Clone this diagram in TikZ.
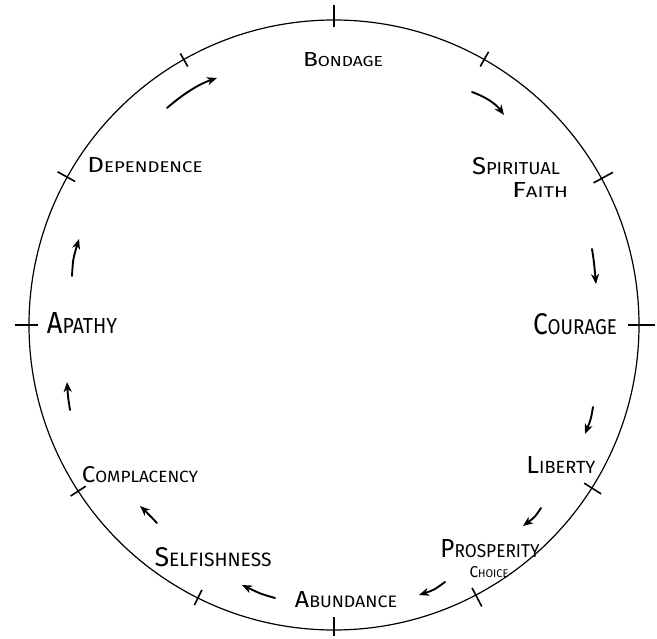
\documentclass[tikz,border=0pt]{standalone}
\usepackage{graphicx}
\usepackage{fontspec}
\setmainfont{Fira Sans}
\usetikzlibrary{arrows.meta,calc}
\newcommand\hwcap[2]{{\fontsize{14}{14}\selectfont #1}{\fontsize{10}{10}\selectfont #2}}
\newcommand\fitlbl[4]{\resizebox{#1pt}{#2pt}{\hwcap{#3}{#4}}}
\tikzset{
  ring/.style={line width=1.2pt},
  tickmark/.style={line width=1.6pt},
  flow/.style={line width=1.9pt,line cap=round,-{Stealth[length=10pt,width=8pt,inset=3pt]}},
  lbl/.style={inner sep=0pt,anchor=center}
}
\begin{document}
\begin{tikzpicture}[x=1pt,y=-1pt]
\useasboundingbox (0,0) rectangle (657,639);
\fill[white] (0,0) rectangle (657,639);
\coordinate (C) at (334,325);
\draw[ring] (C) circle (305pt);
% ticks (image angle, inner r, outer r)
\foreach \a/\ri/\ro in {0/294/321, 28.7/296/318, 60.5/297/314, 90/298/320, 119.5/297/312, 151/296/316, 180/296/319, 213/296/314, 243.5/296/313, 270/292/311, 297.7/297/318, 327.7/296/316}{
  \draw[tickmark,shift={(C)}] (-\a:\ri) -- (-\a:\ro);
}
% labels
\node[lbl] (bondage) at (343,60) {\fitlbl{80}{14}{B}{ONDAGE}};
\node[lbl] (spiritual) at (516,166) {\fitlbl{88}{17}{S}{PIRITUAL}};
\node[lbl] (faith) at (540,190) {\fitlbl{56}{15}{F}{AITH}};
\node[lbl] (courage) at (575,324) {\fitlbl{84}{21}{C}{OURAGE}};
\node[lbl] (liberty) at (561,465) {\fitlbl{69}{17}{L}{IBERTY}};
\node[lbl] (prosperity) at (490,549) {\fitlbl{99}{18}{P}{ROSPERITY}};
\node[lbl] (choice) at (489,572) {\fitlbl{39}{11}{C}{HOICE}};
\node[lbl] (abundance) at (346,600) {\fitlbl{102}{16}{A}{BUNDANCE}};
\node[lbl] (selfishness) at (213,557) {\fitlbl{117}{19}{S}{ELFISHNESS}};
\node[lbl] (complacency) at (140,475) {\fitlbl{116}{16}{C}{OMPLACENCY}};
\node[lbl] (apathy) at (82,323) {\fitlbl{70}{21}{A}{PATHY}};
\node[lbl] (dependence) at (145,165) {\fitlbl{115}{15}{D}{EPENDENCE}};
% arrow end points
\coordinate (a1s) at (167,108); \coordinate (a1e) at (217,78);
\coordinate (a2s) at (472,92);  \coordinate (a2e) at (504,115);
\coordinate (a3s) at (592,249); \coordinate (a3e) at (596,284);
\coordinate (a4s) at (593,407); \coordinate (a4e) at (585,434);
\coordinate (a5s) at (541,508); \coordinate (a5e) at (523,526);
\coordinate (a6s) at (445,582); \coordinate (a6e) at (419,595);
\coordinate (a7s) at (275,598); \coordinate (a7e) at (242,585);
\coordinate (a8s) at (157,523); \coordinate (a8e) at (140,506);
\coordinate (a9s) at (70,410);  \coordinate (a9e) at (67,382);
\coordinate (a10s) at (72,276); \coordinate (a10e) at (79,239);
\draw[flow] (a1s) .. controls (183,94) and (199,84) .. (a1e);
\draw[flow] (a2s) .. controls (486,97) and (496,104) .. (a2e);
\draw[flow] (a3s) .. controls (594,262) .. (a3e);
\draw[flow] (a4s) .. controls (591,419) .. (a4e);
\draw[flow] (a5s) .. controls (535,517) .. (a5e);
\draw[flow] (a6s) .. controls (434,590) .. (a6e);
\draw[flow] (a7s) .. controls (261,594) .. (a7e);
\draw[flow] (a8s) .. controls (151,516) .. (a8e);
\draw[flow] (a9s) .. controls (68,397) .. (a9e);
\draw[flow] (a10s) .. controls (73,259) .. (a10e);
\end{tikzpicture}
\end{document}
